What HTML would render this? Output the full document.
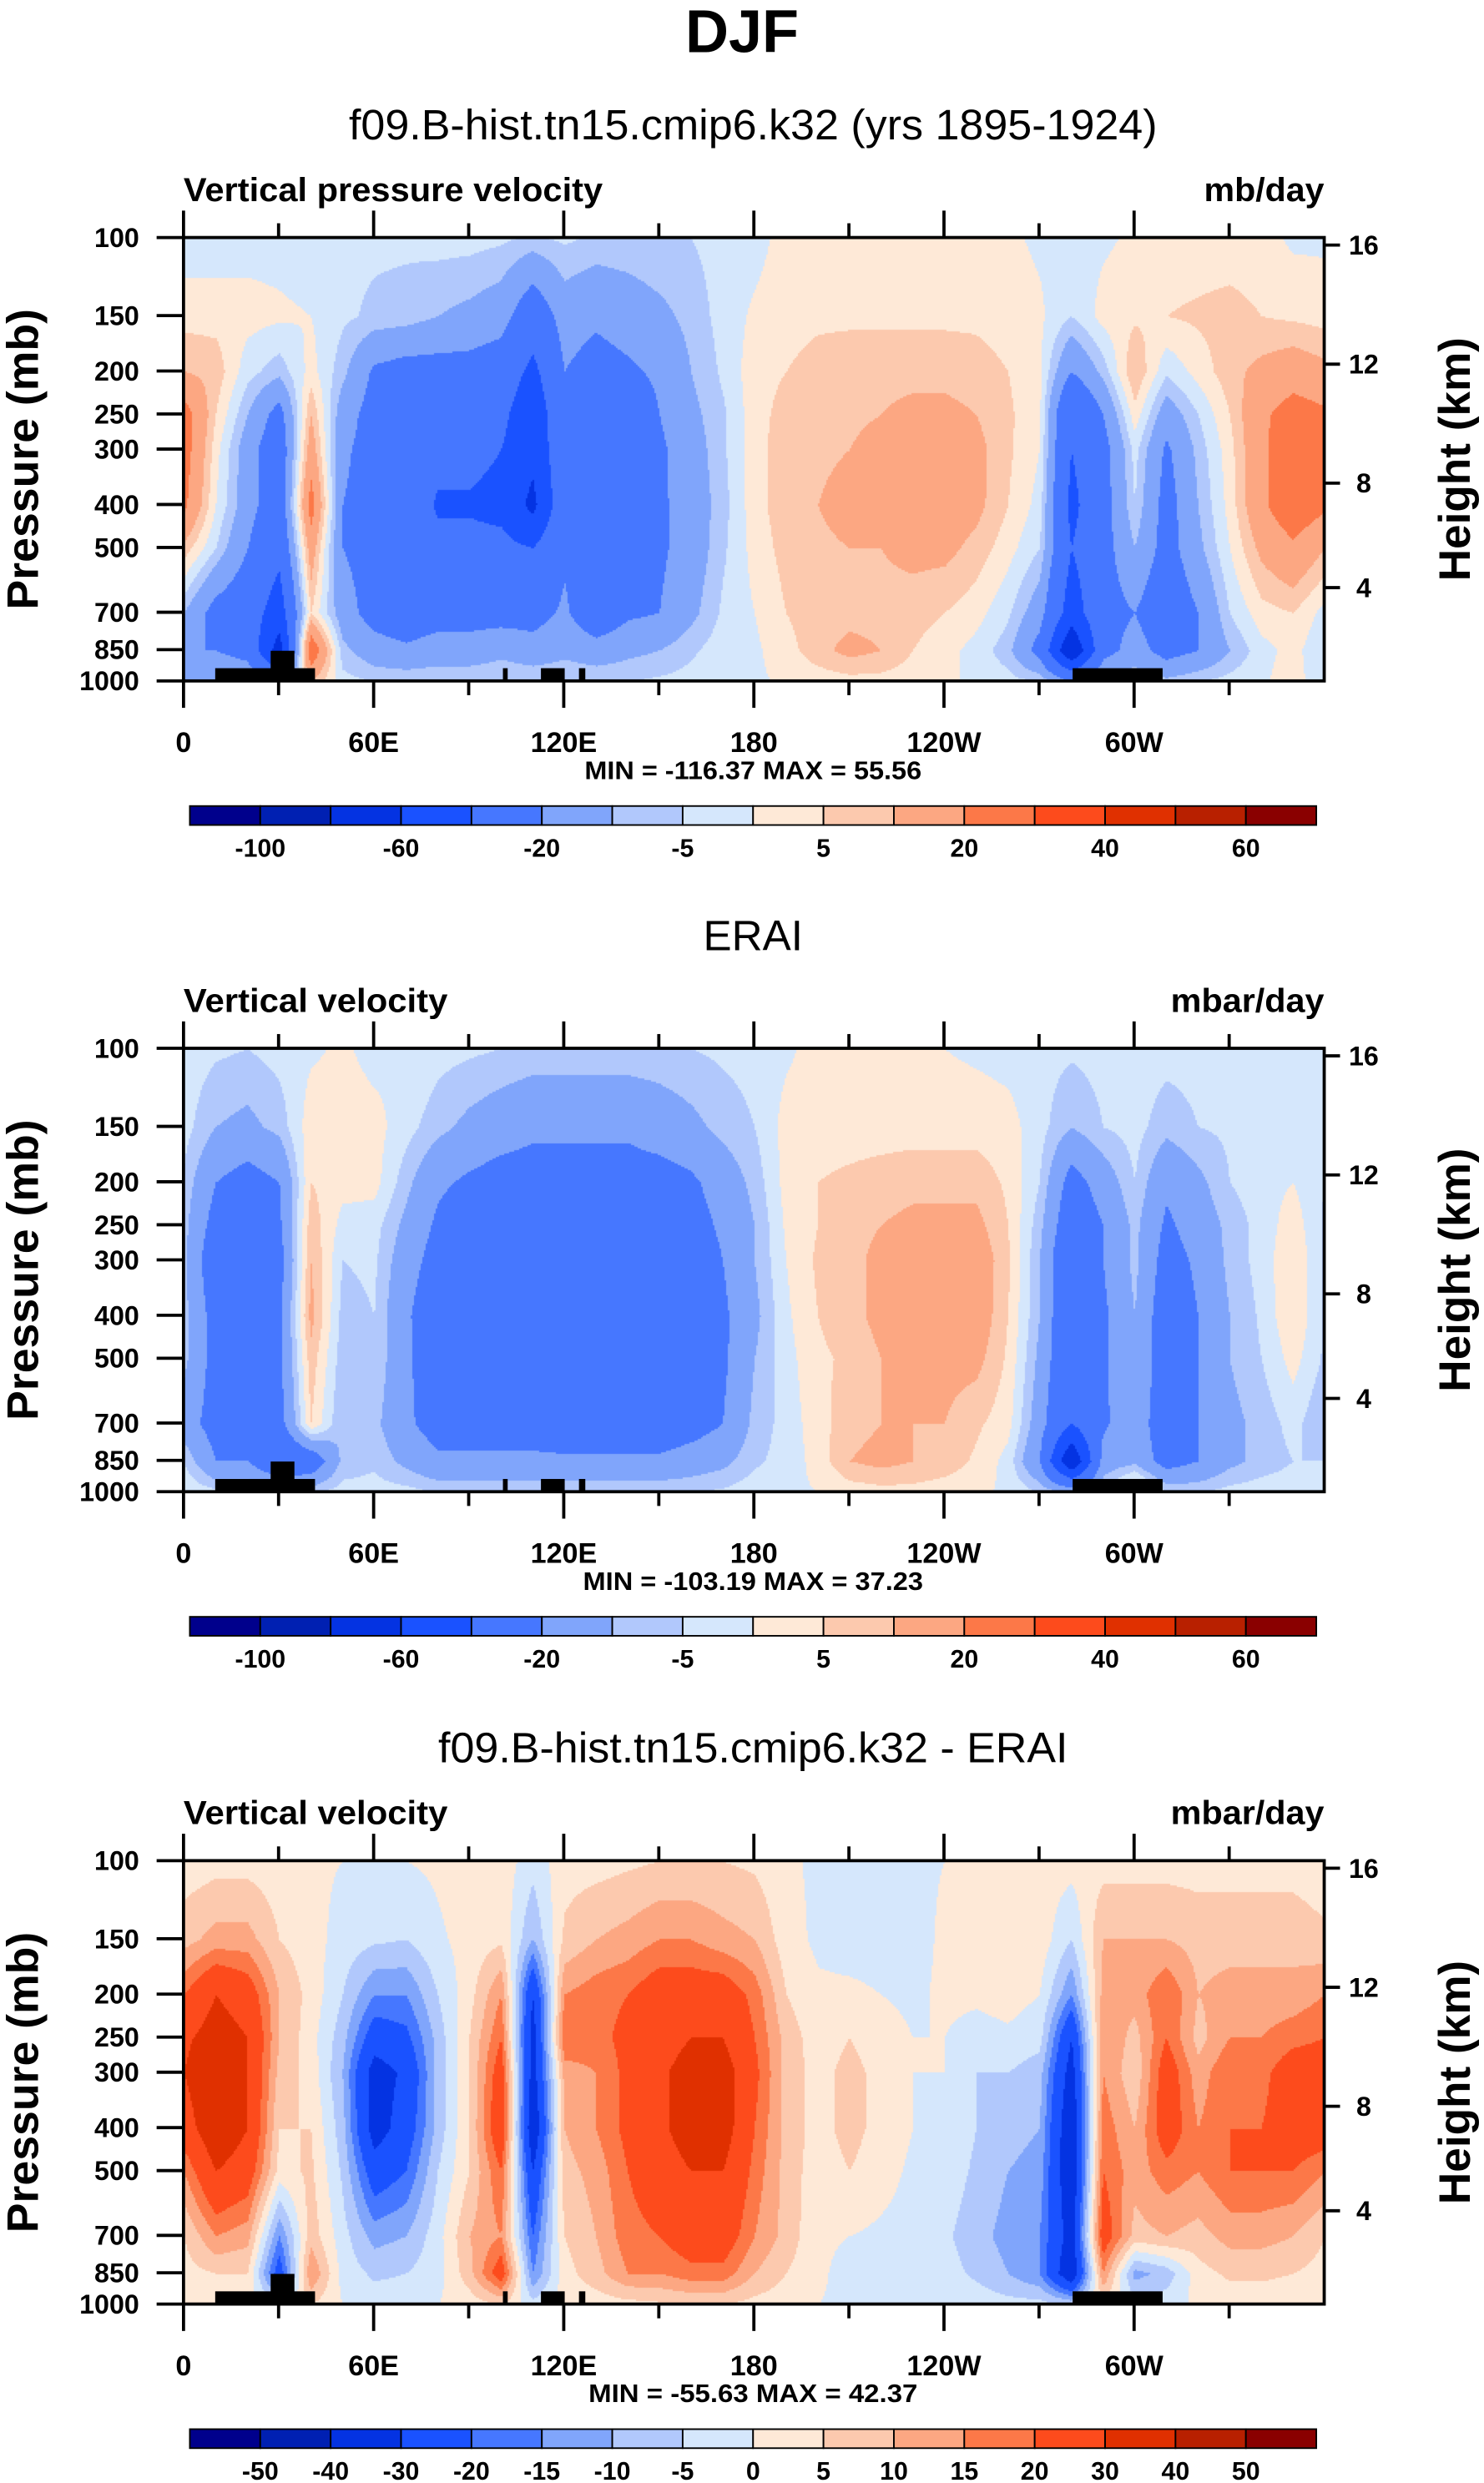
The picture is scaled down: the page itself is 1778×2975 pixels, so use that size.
<!DOCTYPE html>
<html><head><meta charset="utf-8">
<style>
html,body{margin:0;padding:0;background:#fff;}
#wrap{position:relative;width:1778px;height:2975px;overflow:hidden;}
#fld{position:absolute;left:0;top:0;}
#ov{position:absolute;left:0;top:0;}
text{font-family:"Liberation Sans",sans-serif;}
</style></head>
<body>
<div id="wrap">
<canvas id="fld" width="1778" height="2975"></canvas>
<svg id="ov" width="1778" height="2975" viewBox="0 0 938 1568" preserveAspectRatio="none"></svg>
</div>
<script>
// ---- data ----
const lons = [0,10,20,30,40,50,60,70,80,90,100,110,120,130,140,150,160,170,180,190,200,210,220,230,240,250,260,270,280,290,300,310,320,330,340,350,360];
const levels = [100,150,200,250,300,400,500,700,850,1000];
const model = [
[-3,3,10,25,25,22,8,-10,-20,-10],
[-3,3,8,5,2,0,-5,-25,-20,-10],
[-2,2,-3,-10,-15,-15,-20,-30,-25,-10],
[-2,1,-8,-25,-30,-30,-35,-50,-70,-20],
[-3,0,2,10,15,25,15,5,30,10],
[-4,-4,-8,-15,-18,-20,-20,-15,-8,-3],
[-4,-6,-22,-25,-25,-25,-25,-25,-15,-5],
[-4,-7,-25,-25,-28,-28,-28,-28,-18,-5],
[-3,-10,-25,-28,-35,-42,-35,-25,-15,-5],
[-3,-12,-25,-28,-35,-42,-35,-25,-15,-5],
[-4,-15,-28,-35,-40,-45,-35,-25,-12,-5],
[-6,-30,-45,-55,-55,-65,-40,-25,-15,-5],
[-4,-15,-20,-22,-25,-25,-22,-18,-12,-5],
[-6,-18,-25,-30,-35,-35,-30,-30,-15,-5],
[-6,-15,-22,-30,-30,-30,-30,-22,-12,-5],
[-5,-12,-18,-20,-22,-22,-22,-20,-10,-4],
[-5,-8,-10,-12,-14,-15,-15,-12,-6,-3],
[-3,-3,-4,-6,-6,-7,-6,-4,-2,-1],
[-2,1,3,3,3,3,2,0,-1,-1],
[2,3,5,7,8,8,7,5,3,1],
[2,4,7,8,9,10,9,8,8,2],
[2,4,8,9,10,12,10,8,12,3],
[2,4,8,10,12,12,10,8,10,3],
[2,4,8,12,15,15,12,7,5,2],
[2,4,8,12,15,15,12,5,2,1],
[2,4,7,10,12,12,8,2,-2,-1],
[1,3,5,6,6,5,2,-4,-8,-3],
[-1,1,1,1,0,-2,-5,-15,-25,-5],
[-2,-5,-20,-40,-40,-45,-40,-50,-80,-20],
[-1,2,-8,-20,-25,-25,-25,-25,-25,-8],
[1,4,10,3,-3,-5,-10,-20,-15,-5],
[2,5,-4,-15,-22,-25,-25,-30,-25,-8],
[2,6,2,-5,-8,-10,-12,-20,-20,-5],
[2,7,8,5,3,2,0,-5,-10,-3],
[2,5,12,18,18,18,12,3,-2,-1],
[-1,4,15,25,28,28,18,5,2,3],
[-1,3,12,22,25,22,10,-2,-5,-5]];
const erai = [
[-2,-3,-6,-8,-8,-8,-8,-15,-5,-1],
[-4,-10,-20,-25,-30,-25,-25,-25,-20,-3],
[-5,-12,-25,-25,-30,-25,-25,-22,-20,-3],
[-3,-8,-20,-22,-25,-22,-22,-25,-35,-5],
[-1,3,5,8,10,12,8,5,-30,-5],
[1,3,2,-2,-5,-7,-8,-10,-8,-3],
[-2,2,2,-3,-4,-5,-5,-8,-6,-3],
[0,-3,-8,-12,-15,-18,-18,-18,-12,-3],
[-3,-8,-18,-22,-25,-30,-28,-25,-18,-5],
[-4,-12,-22,-28,-30,-35,-30,-25,-18,-5],
[-5,-15,-25,-30,-32,-35,-30,-25,-18,-5],
[-6,-18,-25,-30,-35,-38,-32,-25,-18,-5],
[-6,-18,-25,-30,-35,-38,-35,-28,-18,-5],
[-6,-18,-25,-30,-32,-35,-35,-28,-18,-5],
[-6,-18,-25,-30,-32,-35,-35,-28,-18,-5],
[-6,-15,-25,-28,-35,-38,-32,-28,-18,-5],
[-5,-12,-22,-25,-28,-30,-28,-25,-15,-5],
[-4,-8,-15,-18,-20,-22,-22,-20,-12,-4],
[-3,-5,-8,-10,-10,-12,-10,-8,-6,-2],
[-1,2,2,1,0,-1,-2,-3,-3,-1],
[2,3,5,5,6,5,4,3,2,0],
[2,3,6,8,8,8,6,8,10,2],
[2,3,7,10,12,12,10,10,12,3],
[1,3,8,12,14,15,12,10,10,3],
[0,3,8,12,15,15,12,10,8,2],
[-1,3,8,12,15,15,12,6,4,1],
[-2,2,4,5,6,5,4,2,-2,-1],
[-3,-3,-5,-8,-10,-10,-12,-15,-20,-5],
[-4,-10,-25,-30,-35,-35,-35,-40,-80,-10],
[-3,-5,-15,-20,-20,-22,-22,-22,-15,-5],
[-2,-3,-5,-8,-8,-10,-10,-12,-12,10],
[-3,-8,-18,-22,-25,-28,-28,-30,-25,-5],
[-3,-5,-12,-15,-18,-20,-20,-20,-20,-5],
[-3,-4,-5,-8,-8,-10,-10,-12,-12,-3],
[-2,-2,-2,-3,-3,-4,-5,-8,-8,-2],
[-2,-2,0,3,5,5,2,-3,-5,-2],
[-2,-3,-5,-6,-6,-6,-6,-10,-5,-1]];
const diff = [
[2,8,20,28,30,25,15,5,3,2],
[3,12,30,35,40,38,30,15,5,2],
[3,12,25,30,30,30,25,12,5,2],
[2,5,10,10,8,5,3,-15,-25,-3],
[1,2,3,2,3,5,6,8,15,5],
[0,-2,-5,-8,-10,-8,-6,-3,-2,0],
[0,-4,-15,-25,-35,-35,-25,-12,-6,-2],
[0,-5,-15,-22,-28,-25,-20,-10,-5,-2],
[1,-1,-5,-8,-8,-8,-5,-2,-2,0],
[3,2,3,5,5,5,5,10,8,2],
[3,4,15,20,25,28,20,15,25,5],
[-3,-10,-30,-35,-35,-40,-30,-20,-15,-3],
[3,6,15,20,12,10,8,5,3,2],
[3,10,18,18,15,15,12,10,8,2],
[4,12,20,22,22,22,20,18,15,3],
[5,15,25,25,28,28,25,20,15,4],
[5,15,25,30,35,35,30,25,18,5],
[5,12,25,30,35,35,30,25,18,5],
[4,10,18,20,22,20,18,15,10,3],
[1,2,5,8,8,8,8,8,5,2],
[-1,-1,1,2,3,3,2,1,1,0],
[-1,-2,1,5,7,7,5,0,-2,-1],
[-1,-2,0,2,3,3,2,-1,-2,-1],
[-1,-2,-1,0,0,0,-1,-2,-2,-1],
[0,1,1,0,0,-1,-2,-4,-3,-1],
[0,1,1,-2,-5,-5,-6,-8,-6,-2],
[1,2,2,-1,-5,-8,-10,-12,-10,-3],
[2,3,0,-3,-8,-10,-12,-15,-15,-3],
[2,-5,-15,-30,-35,-40,-40,-35,-40,-5],
[3,10,12,15,15,18,20,25,15,3],
[3,10,12,8,6,10,12,8,-12,-3],
[3,10,20,20,25,25,18,10,-8,-2],
[3,8,10,8,12,15,15,8,3,1],
[3,8,12,15,20,20,20,12,6,2],
[3,8,12,15,18,20,20,12,6,2],
[3,8,12,18,25,25,20,10,5,2],
[2,6,15,20,25,25,15,5,3,2]];
const boundsA = [-100,-80,-60,-40,-20,-10,-5,0,5,10,20,30,40,50,60];
const boundsB = [-50,-40,-30,-20,-15,-10,-5,0,5,10,15,20,30,40,50];
const labelsA = ["-100","","-60","","-20","","-5","","5","","20","","40","","60"];
const labelsB = ["-50","-40","-30","-20","-15","-10","-5","0","5","10","15","20","30","40","50"];
const colors = ["#00008c","#0020b2","#0433e2","#1a52ff","#4677ff","#80a5fb","#b1c8fc","#d5e7fc","#fee9d7","#fcc9ae","#fca782","#fc7848","#fd4b1c","#e03000","#b82000","#8a0000"];
const pressTicks = [100,150,200,250,300,400,500,700,850,1000];
const heightLabels = ["16","12","8","4"];
const heightPress = [104,193,358,616];
const lonTicks = [0,60,120,180,240,300];
const lonLabels = ["0","60E","120E","180","120W","60W"];
const land = [[10,41.5,936],[27.5,35,855],[100.8,102.3,936],[112.8,120.3,936],[124.8,126.8,936],[280.6,309,936]];
const panels = [
 {off:0, title:"f09.B-hist.tn15.cmip6.k32 (yrs 1895-1924)", tw:511, left:"Vertical pressure velocity", lw:265, right:"mb/day", rw:76, minmax:"MIN = -116.37  MAX =  55.56", mw:213, data:model, bounds:boundsA, labels:labelsA},
 {off:512, title:"ERAI", tw:63, left:"Vertical velocity", lw:167, right:"mbar/day", rw:97, minmax:"MIN = -103.19  MAX =  37.23", mw:215, data:erai, bounds:boundsA, labels:labelsA},
 {off:1025, title:"f09.B-hist.tn15.cmip6.k32 - ERAI", tw:398, left:"Vertical velocity", lw:167, right:"mbar/day", rw:97, minmax:"MIN = -55.63  MAX = 42.37", mw:208, data:diff, bounds:boundsB, labels:labelsB}
];
// ---- geometry (thumb units) ----
const X0=116, X1=837, PT=150, PB=430;
const sx=1778/938, sy=2975/1568;
function xOf(lon){return X0+(X1-X0)*lon/360;}
function yOf(p,off){return off+PB-(PB-PT)*Math.log10(1000/p);}
const NS="http://www.w3.org/2000/svg";
const svg=document.getElementById('ov');
function el(tag,attrs,parent){const e=document.createElementNS(NS,tag);for(const k in attrs)e.setAttribute(k,attrs[k]);(parent||svg).appendChild(e);return e;}
function txt(s,attrs,parent){const e=el('text',attrs,parent);e.textContent=s;return e;}

// ---- fields ----
const ctx=document.getElementById('fld').getContext('2d');
function sample(data,lon,p){
  let i=Math.min(Math.floor(lon/10),lons.length-2); let fx=(lon-lons[i])/10;
  const lp=Math.log(p); let j=0;
  while(j<levels.length-2 && Math.log(levels[j+1])<lp) j++;
  let fy=(lp-Math.log(levels[j]))/(Math.log(levels[j+1])-Math.log(levels[j]));
  fy=Math.max(0,Math.min(1,fy));
  const a=data[i][j],b=data[i+1][j],c=data[i][j+1],d=data[i+1][j+1];
  return (a*(1-fx)+b*fx)*(1-fy)+(c*(1-fx)+d*fx)*fy;
}
function colorFor(v,bounds){let k=0;while(k<bounds.length&&v>=bounds[k])k++;return colors[k];}
panels.forEach(P=>{
  const px0=Math.round(X0*sx), px1=Math.round(X1*sx);
  const py0=Math.round((P.off+PT)*sy), py1=Math.round((P.off+PB)*sy);
  const step=2;
  for(let py=py0;py<py1;py+=step){
    const ty=py/sy-P.off;
    const p=1000/Math.pow(10,(PB-ty)/(PB-PT));
    for(let px=px0;px<px1;px+=step){
      const lon=(px/sx-X0)/(X1-X0)*360;
      ctx.fillStyle=colorFor(sample(P.data,lon,p),P.bounds);
      ctx.fillRect(px,py,step,step);
    }
  }
});

// ---- overlay ----
panels.forEach((P,pi)=>{
  const g=el('g',{});
  
  
  const o=P.off;
  const t=txt(P.title,{x:476,y:o+88,'text-anchor':'middle','font-size':27,textLength:P.tw,lengthAdjust:'spacingAndGlyphs'},g);
  
  const l=txt(P.left,{x:116,y:o+127,'font-size':21,'font-weight':'bold',textLength:P.lw,lengthAdjust:'spacingAndGlyphs'},g);
  
  const r=txt(P.right,{x:837-P.rw,y:o+127,'font-size':21,'font-weight':'bold',textLength:P.rw,lengthAdjust:'spacingAndGlyphs'},g);
  
  // land
  land.forEach(b=>{
    const rr=el('rect',{x:xOf(b[0]),y:yOf(b[2],o),width:xOf(b[1])-xOf(b[0]),height:yOf(1000,o)-yOf(b[2],o),fill:'#000'},g);
    
  });
  // frame
  const f=el('rect',{x:X0,y:o+PT,width:X1-X0,height:PB-PT,fill:'none',stroke:'#000','stroke-width':2},g);
  
  // pressure ticks
  pressTicks.forEach(p=>{
    const y=yOf(p,o);
    el('line',{x1:X0-17,x2:X0,y1:y,y2:y,stroke:'#000','stroke-width':2},g);
    const tl=txt(String(p),{x:88,y:y+6,'text-anchor':'end','font-size':17,'font-weight':'bold'},g);
    
  });
  heightPress.forEach((p,i)=>{
    const y=yOf(p,o);
    el('line',{x1:X1,x2:X1+10,y1:y,y2:y,stroke:'#000','stroke-width':2},g);
    const hl=txt(heightLabels[i],{x:862,y:y+6,'text-anchor':'middle','font-size':17,'font-weight':'bold'},g);
    
  });
  for(let lon=0;lon<360;lon+=30){
    const x=xOf(lon), major=lon%60===0, L=major?17:9;
    el('line',{x1:x,x2:x,y1:o+PB,y2:o+PB+L,stroke:'#000','stroke-width':2},g);
    el('line',{x1:x,x2:x,y1:o+PT,y2:o+PT-L,stroke:'#000','stroke-width':2},g);
  }
  lonTicks.forEach((lon,i)=>{
    const ll=txt(lonLabels[i],{x:xOf(lon),y:o+475,'text-anchor':'middle','font-size':18,'font-weight':'bold'},g);
    
  });
  const ya=txt('Pressure (mb)',{x:0,y:0,'text-anchor':'middle','font-size':28,'font-weight':'bold',textLength:190,lengthAdjust:'spacingAndGlyphs',transform:`translate(24,${o+290}) rotate(-90)`},g);
  
  const yb=txt('Height (km)',{x:0,y:0,'text-anchor':'middle','font-size':28,'font-weight':'bold',textLength:154,lengthAdjust:'spacingAndGlyphs',transform:`translate(929,${o+290}) rotate(-90)`},g);
  
  const mm=txt(P.minmax,{x:476-P.mw/2,y:o+492,'font-size':16,'font-weight':'bold',textLength:P.mw,lengthAdjust:'spacingAndGlyphs'},g);
  
  // colorbar
  const cb=el('g',{},g);
  
  const cx0=120,cx1=832,cw=(cx1-cx0)/colors.length;
  colors.forEach((c,k)=>{
    const b=el('rect',{x:cx0+k*cw,y:o+509,width:cw,height:12,fill:c,stroke:'#000','stroke-width':1},cb);
    
  });
  P.labels.forEach((s,k)=>{
    if(!s)return;
    const cl=txt(s,{x:cx0+(k+1)*cw,y:o+541,'text-anchor':'middle','font-size':16,'font-weight':'bold'},cb);
    
  });
});
const main=txt('DJF',{x:469,y:33,'text-anchor':'middle','font-size':38,'font-weight':'bold'});


</script>
</body></html>
